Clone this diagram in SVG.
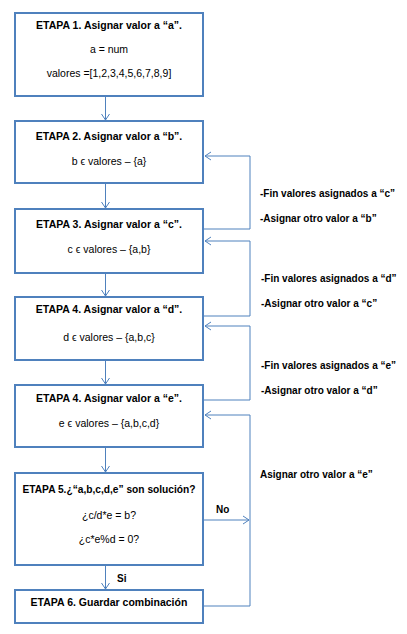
<svg xmlns="http://www.w3.org/2000/svg" width="407" height="634" viewBox="0 0 407 634">
<defs>
<style>
.box{fill:#fff;stroke:#4F81BD;stroke-width:2}
.con{fill:none;stroke:#4F81BD;stroke-width:1}
.t{font-family:"Liberation Sans",Arial,sans-serif;font-size:10.5px;fill:#000;text-anchor:middle}
.b{font-weight:bold}
.l{font-family:"Liberation Sans",Arial,sans-serif;font-size:10px;font-weight:bold;fill:#000}
</style>
<marker id="ah" markerWidth="10" markerHeight="10" refX="0" refY="0" viewBox="-7 -5 8 10" orient="auto" markerUnits="userSpaceOnUse">
<path d="M-6,-4 L0,0 L-6,4" fill="none" stroke="#4F81BD" stroke-width="1"/>
</marker>
</defs>
<rect width="407" height="634" fill="#fff"/>
<g id="connectors">
<line class="con" x1="105.5" y1="97" x2="105.5" y2="120" marker-end="url(#ah)"/>
<line class="con" x1="105.5" y1="184" x2="105.5" y2="208" marker-end="url(#ah)"/>
<line class="con" x1="105.5" y1="274" x2="105.5" y2="296" marker-end="url(#ah)"/>
<line class="con" x1="105.5" y1="361" x2="105.5" y2="384" marker-end="url(#ah)"/>
<line class="con" x1="105.5" y1="448" x2="105.5" y2="472" marker-end="url(#ah)"/>
<line class="con" x1="105.5" y1="566" x2="105.5" y2="589" marker-end="url(#ah)"/>
<polyline class="con" points="204,229 250,229 250,156 205,156" marker-end="url(#ah)"/>
<polyline class="con" points="204,316 250,316 250,241 205,241" marker-end="url(#ah)"/>
<polyline class="con" points="204,400 250,400 250,326 205,326" marker-end="url(#ah)"/>
<line class="con" x1="204" y1="520" x2="249" y2="520" marker-end="url(#ah)"/>
<polyline class="con" points="204,606 250,606 250,415 205,415" marker-end="url(#ah)"/>
</g>
<g id="labels">
<text class="l" x="260" y="197">-Fin valores asignados a “c”</text>
<text class="l" x="260" y="222">-Asignar otro valor a “b”</text>
<text class="l" x="261" y="282">-Fin valores asignados a “d”</text>
<text class="l" x="261" y="307">-Asignar otro valor a “c”</text>
<text class="l" x="261" y="369">-Fin valores asignados a “e”</text>
<text class="l" x="261" y="394">-Asignar otro valor a “d”</text>
<text class="l" x="260" y="478">Asignar otro valor a “e”</text>
<text class="l" x="216" y="513">No</text>
<text class="l" x="117" y="582">Si</text>
</g>
<g id="n1">
<rect class="box" x="15" y="13" width="188" height="83"/>
<text class="t b" x="109" y="29">ETAPA 1. Asignar  valor a “a”.</text>
<text class="t" x="109" y="53">a = num</text>
<text class="t" x="109" y="77">valores =[1,2,3,4,5,6,7,8,9]</text>
</g>
<g id="n2">
<rect class="box" x="15" y="121" width="188" height="62"/>
<text class="t b" x="109" y="140">ETAPA 2. Asignar valor a “b”.</text>
<text class="t" x="109" y="165">b ϵ valores – {a}</text>
</g>
<g id="n3">
<rect class="box" x="15" y="209" width="188" height="64"/>
<text class="t b" x="109" y="228">ETAPA 3. Asignar valor a “c”.</text>
<text class="t" x="109" y="253">c ϵ valores – {a,b}</text>
</g>
<g id="n4">
<rect class="box" x="15" y="297" width="188" height="63"/>
<text class="t b" x="109" y="313">ETAPA 4. Asignar valor a “d”.</text>
<text class="t" x="109" y="341">d ϵ valores – {a,b,c}</text>
</g>
<g id="n5">
<rect class="box" x="15" y="385" width="188" height="62"/>
<text class="t b" x="109" y="402">ETAPA 4. Asignar valor a “e”.</text>
<text class="t" x="109" y="427">e ϵ valores – {a,b,c,d}</text>
</g>
<g id="n6">
<rect class="box" x="15" y="473" width="188" height="92"/>
<text class="t b" x="109" y="493" style="font-size:10.2px">ETAPA 5.¿“a,b,c,d,e” son solución?</text>
<text class="t" x="109" y="519">¿c/d*e = b?</text>
<text class="t" x="109" y="543">¿c*e%d = 0?</text>
</g>
<g id="n7">
<rect class="box" x="15" y="590" width="188" height="33"/>
<text class="t b" x="109" y="606">ETAPA 6. Guardar combinación</text>
</g>
</svg>
